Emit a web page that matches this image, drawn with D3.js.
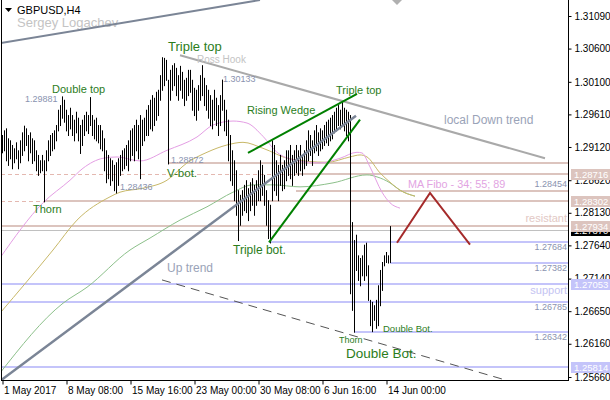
<!DOCTYPE html>
<html>
<head>
<meta charset="utf-8">
<script src="https://cdn.jsdelivr.net/npm/d3@7"></script>
<style>
  body { margin: 0; background: #fff; }
  svg { display: block; }
  text { font-family: "Liberation Sans", Arial, sans-serif; }
</style>
</head>
<body>
<svg id="chart" width="610" height="400"></svg>
<script>
// ---- GBPUSD H4 bars (high / low), one per 4-hour bar starting 1 May 2017 00:00 ----
const highs = [
  1.2930,1.2937,1.2940,1.2925,1.2922,1.2915,1.2910,1.2919,1.2907,1.2922,
  1.2934,1.2944,1.2940,1.2930,1.2934,1.2925,1.2922,1.2907,1.2900,1.2892,
  1.2900,1.2892,1.2907,1.2922,1.2930,1.2933,1.2937,1.2945,1.2968,1.2975,
  1.29881,1.2983,1.2968,1.2960,1.2971,1.2960,1.2953,1.2965,1.2956,1.2945,
  1.2953,1.2960,1.2965,1.2960,1.2987,1.2960,1.2953,1.2956,1.2945,1.2945,
  1.2937,1.2925,1.2907,1.2900,1.2895,1.2892,1.2885,1.2889,1.2895,1.2900,
  1.2907,1.2910,1.2915,1.2922,1.2937,1.2940,1.2945,1.2953,1.2945,1.2960,
  1.2953,1.2956,1.2968,1.2975,1.2983,1.2990,1.2986,1.2995,1.2998,1.3020,
  1.3047,1.3046,1.3043,1.3013,1.3028,1.3035,1.3038,1.3031,1.3020,1.3034,
  1.3025,1.3013,1.3016,1.3028,1.3028,1.3013,1.3001,1.2998,1.3005,1.3020,
  1.3035,1.3016,1.3005,1.2998,1.2990,1.2983,1.2998,1.2986,1.2975,1.2990,
  1.30133,1.2983,1.2968,1.2953,1.2930,1.2907,1.2892,1.2877,1.2847,1.2840,
  1.2847,1.2855,1.2862,1.2850,1.2859,1.2865,1.2855,1.2862,1.2877,1.2892,
  1.2885,1.2870,1.2847,1.2832,1.2825,1.2922,1.2915,1.2892,1.2885,1.2900,
  1.2885,1.2892,1.2907,1.2907,1.2915,1.2900,1.2907,1.2915,1.2907,1.2915,
  1.2900,1.2907,1.2922,1.2937,1.2930,1.2922,1.2937,1.2945,1.2934,1.2940,
  1.2937,1.2945,1.2950,1.2953,1.2956,1.2960,1.2965,1.2971,1.2975,1.2968,
  1.2980,1.2971,1.2968,1.2965,1.2960,1.2799,1.2772,1.2780,1.2749,1.2745,
  1.2749,1.2765,1.2768,1.2734,1.2682,1.2679,1.2674,1.2682,1.2704,1.2727,
  1.2739,1.2749,1.2754,1.2749,1.2793
];
const lows = [
  1.2904,1.2907,1.2892,1.2885,1.2895,1.2880,1.2889,1.2895,1.2880,1.2889,
  1.2900,1.2907,1.2915,1.2892,1.2904,1.2888,1.2892,1.2877,1.2870,1.2874,
  1.2877,1.28302,1.2877,1.2892,1.2900,1.2907,1.2910,1.2922,1.2937,1.2945,
  1.2956,1.2950,1.2937,1.2930,1.2940,1.2930,1.2922,1.2934,1.2922,1.2903,
  1.2915,1.2930,1.2937,1.2933,1.2945,1.2930,1.2925,1.2922,1.2919,1.2910,
  1.2907,1.2877,1.2859,1.2865,1.2855,1.2862,1.2847,1.28436,1.2855,1.2870,
  1.2877,1.2880,1.2885,1.2877,1.2892,1.2900,1.2892,1.2907,1.2895,1.2865,
  1.2915,1.2922,1.2930,1.2930,1.2940,1.2937,1.2945,1.2953,1.2960,1.2983,
  1.2998,1.3005,1.3013,1.28872,1.2983,1.2998,1.3005,1.2990,1.2983,1.2998,
  1.2986,1.2975,1.2983,1.2990,1.2995,1.2968,1.2960,1.2953,1.2968,1.2983,
  1.2990,1.2975,1.2968,1.2956,1.2945,1.2940,1.2953,1.2945,1.2930,1.2945,
  1.2968,1.2937,1.2930,1.2892,1.2862,1.2855,1.2832,1.2810,1.2772,1.2795,
  1.2810,1.2817,1.2814,1.2802,1.2817,1.2825,1.2810,1.2825,1.2832,1.2832,
  1.2840,1.2825,1.2795,1.2775,1.27684,1.2832,1.2847,1.2840,1.2832,1.2855,
  1.2847,1.2850,1.2862,1.2870,1.2865,1.2855,1.2870,1.2874,1.2870,1.2877,
  1.2870,1.2880,1.2885,1.2892,1.2900,1.2885,1.2904,1.2907,1.2900,1.2907,
  1.2910,1.2915,1.2919,1.2915,1.2922,1.2925,1.2934,1.2937,1.2945,1.2940,
  1.2945,1.2937,1.2930,1.2922,1.2692,1.2667,1.26342,1.2727,1.2712,1.2704,
  1.2719,1.2712,1.2719,1.2682,1.2644,1.2635,1.2652,1.2640,1.2644,1.2674,
  1.2697,1.2734,1.2739,1.27382,1.2739
];

// ---- moving averages 34 / 55 / 89 as [bar index, price] ----
const ma34 = [[-1,1.2745],[20.5,1.2828],[34,1.2862],[40.5,1.2880],[50.5,1.2895],[57.5,1.2897],
  [69,1.2891],[82.5,1.2907],[97.5,1.2927],[105.5,1.2945],[115.5,1.2951],[122.5,1.2948],
  [130.5,1.2928],[137.5,1.2904],[144,1.2894],[159,1.2888],[169,1.2895],[177.5,1.2904],
  [180,1.2903],[184,1.2882],[190,1.2844],[194,1.2828],[199,1.2820]];
const ma55 = [[-1,1.2662],[25.5,1.2757],[37.5,1.2802],[54,1.2837],[59,1.2844],[70.5,1.2850],
  [82.5,1.2862],[92.5,1.2888],[102.5,1.2904],[112.5,1.2915],[120.5,1.2919],[130.5,1.2910],
  [144,1.2894],[162.5,1.2889],[174,1.2897],[179,1.2900],[182.5,1.2897],[189,1.2873],
  [194,1.2859],[199,1.2847],[206.5,1.2838]];
const ma89 = [[-1,1.2572],[30.5,1.2677],[42.5,1.2701],[64,1.2757],[74,1.2775],[89,1.2802],
  [102.5,1.2822],[115.5,1.2844],[125.5,1.2855],[135.5,1.2855],[149,1.2852],[165.5,1.2858],
  [182.5,1.2870],[187.5,1.2867],[194,1.2858],[199,1.2847],[206.5,1.2838]];

// ---- trend lines as pairs of [bar index, price] ----
const channelTop = [[-1,1.3068],[129,1.3133]];
const localDownTrend = [[89,1.3050],[271.5,1.2895]];
const upTrend = [[-1,1.2560],[177,1.2959]];
const lowerChannel = [[80,1.2712],[258,1.2556]];
const wedgeTop = [[123,1.2903],[177.5,1.2992]];
const wedgeBottom = [[133.5,1.27684],[179,1.2953]];
const projection = [[197.5,1.2768],[214,1.2843],[234,1.2765]];

// ---- horizontal levels: price and first bar (null = whole width) ----
const resistPrices = [1.28872, 1.28716, 1.28454, 1.28302, 1.27934];
const resistStart  = [83, 147, 147, 21, null];
const dashedPrices = [1.28716, 1.28302];
const dashedEnd    = [147, 21];
const supportPrices = [1.27684, 1.27382, 1.27053, 1.26785, 1.26342, 1.25814];
const supportStart  = [134, 194, null, null, 176, null];
const bidPrice = 1.27870;

// ---- axes ----
const priceTicks = [1.31090,1.30600,1.30100,1.29610,1.29120,1.28620,1.28130,1.27640,1.27140,1.26650,1.26160,1.25660];
const timeTickBars = [0,32,64,96,128,160,192];
const timeTickLabels = ['1 May 2017','8 May 08:00','15 May 16:00','23 May 00:00','30 May 08:00','6 Jun 16:00','14 Jun 00:00'];

const svg = d3.select('#chart');
const plotLeft = 1, plotRight = 569, plotTop = 0, plotBottom = 381;

const x = d3.scaleLinear().domain([0, 283]).range([2, 568]);
const y = d3.scaleLinear().domain([1.25660, 1.31090]).range([377, 16]);

// header (drawn first so chart objects sit over it)
svg.append('path').attr('d', 'M5,8H12L8.5,12Z').attr('fill', '#000');
svg.append('text').attr('x', 17).attr('y', 13.5).attr('font-size', 11).attr('fill', '#000').text('GBPUSD,H4');
svg.append('text').attr('x', 17).attr('y', 26.5).attr('font-size', 13).attr('fill', '#c4c4c4').text('Sergey Logachev');

svg.append('defs').append('clipPath').attr('id', 'plotArea')
  .append('rect').attr('x', plotLeft).attr('y', plotTop)
  .attr('width', plotRight - plotLeft).attr('height', plotBottom - plotTop);

const plot = svg.append('g').attr('clip-path', 'url(#plotArea)');

const tan = '#dcc4be', lilac = '#c4c4fa';
const hx = i => (i === null ? plotLeft : x(i));

// level lines
plot.selectAll('line.dash').data(dashedPrices).join('line')
  .attr('x1', plotLeft).attr('x2', (d, k) => x(dashedEnd[k]))
  .attr('y1', d => Math.round(y(d)) + 0.5).attr('y2', d => Math.round(y(d)) + 0.5)
  .attr('stroke', '#e4b8b0').attr('stroke-dasharray', '4,3');
plot.selectAll('line.res').data(resistPrices).join('line')
  .attr('x1', (d, k) => hx(resistStart[k])).attr('x2', plotRight)
  .attr('y1', d => Math.round(y(d))).attr('y2', d => Math.round(y(d)))
  .attr('stroke', tan).attr('stroke-width', 2);
plot.selectAll('line.sup').data(supportPrices).join('line')
  .attr('x1', (d, k) => hx(supportStart[k])).attr('x2', plotRight)
  .attr('y1', d => Math.round(y(d))).attr('y2', d => Math.round(y(d)))
  .attr('stroke', lilac).attr('stroke-width', 2);
plot.append('line').attr('x1', plotLeft).attr('x2', plotRight)
  .attr('y1', Math.round(y(bidPrice)) + 0.5).attr('y2', Math.round(y(bidPrice)) + 0.5)
  .attr('stroke', '#c0c0c0');

// moving averages
const maLine = d3.line().x(d => x(d[0])).y(d => y(d[1])).curve(d3.curveMonotoneX);
[[ma89, '#8cc08a'], [ma55, '#c8b868'], [ma34, '#e49ee4']].forEach(([data, c]) => {
  plot.append('path').attr('d', maLine(data)).attr('fill', 'none').attr('stroke', c).attr('stroke-width', 1);
});

// price bars
plot.selectAll('line.bar').data(highs).join('line')
  .attr('x1', (d, i) => x(i) + 0.5).attr('x2', (d, i) => x(i) + 0.5)
  .attr('y1', d => y(d)).attr('y2', (d, i) => y(lows[i]) + 1)
  .attr('stroke', '#000').attr('stroke-width', 1);

// trend lines
const seg = d3.line().x(d => x(d[0])).y(d => y(d[1]));
plot.append('path').attr('d', seg(channelTop)).attr('stroke', '#7b8596').attr('stroke-width', 2).attr('fill', 'none');
plot.append('path').attr('d', seg(localDownTrend)).attr('stroke', '#a9a9a9').attr('stroke-width', 2).attr('fill', 'none');
plot.append('path').attr('d', seg(upTrend)).attr('stroke', '#7b8596').attr('stroke-width', 2.5).attr('fill', 'none');
plot.append('path').attr('d', seg(lowerChannel)).attr('stroke', '#555').attr('stroke-width', 1)
  .attr('stroke-dasharray', '9,6').attr('fill', 'none');
plot.append('path').attr('d', seg(wedgeTop)).attr('stroke', '#008000').attr('stroke-width', 2).attr('fill', 'none');
plot.append('path').attr('d', seg(wedgeBottom)).attr('stroke', '#008000').attr('stroke-width', 2).attr('fill', 'none');
plot.append('path').attr('d', seg(projection)).attr('stroke', '#a52a2a').attr('stroke-width', 2).attr('fill', 'none');

// frame and axes
svg.append('line').attr('x1', 1.5).attr('x2', 1.5).attr('y1', 0).attr('y2', plotBottom).attr('stroke', '#000');

const yAxis = d3.axisRight(y).tickValues(priceTicks).tickFormat(d3.format('.5f')).tickSize(3).tickPadding(3);
const gy = svg.append('g').attr('transform', `translate(${plotRight - 0.5},0)`).call(yAxis);
gy.select('.domain').attr('d', `M0,0V${plotBottom}`);
gy.selectAll('text').attr('font-size', 10).attr('fill', '#000').style('font-family', '"Liberation Sans", Arial, sans-serif');

const xAxis = d3.axisBottom(x).tickValues(timeTickBars).tickFormat((d, k) => timeTickLabels[k]).tickSize(4).tickPadding(2);
const gx = svg.append('g').attr('transform', `translate(0.5,${plotBottom - 0.5})`).call(xAxis);
gx.select('.domain').attr('d', `M1,0H${plotRight - 0.5}`);
gx.selectAll('text').attr('font-size', 10).attr('text-anchor', 'start').attr('dx', 1).attr('fill', '#000')
  .style('font-family', '"Liberation Sans", Arial, sans-serif');

// price boxes on the scale
const boxes = [
  [1.28716, tan, '#fff'], [1.28302, tan, '#fff'], [bidPrice, '#000', '#fff'],
  [1.27934, tan, '#fff'], [1.27053, lilac, '#fff'], [1.25814, lilac, '#fff']
];
boxes.forEach(([p, bg, fg]) => {
  const cy = y(p);
  svg.append('rect').attr('x', plotRight + 2).attr('y', Math.round(cy) - 5).attr('width', 41).attr('height', 11).attr('fill', bg);
  svg.append('text').attr('x', plotRight + 5).attr('y', Math.round(cy) + 4).attr('font-size', 9.5).attr('fill', fg)
    .text(d3.format('.5f')(p));
});

// chart-shift marker
svg.append('path').attr('d', `M${x(195)},0H${x(195) + 10}L${x(195) + 5},5Z`).attr('fill', '#b0b0b0');

// annotations
const green = '#2b7d1b';
const notes = [
  ['Triple top', 168, 50.5, 13, green],
  ['Ross Hook', 197, 63, 10, '#c4c4c4'],
  ['Double top', 52, 93, 11, green],
  ['Rising Wedge', 247, 114, 11, green],
  ['Triple top', 336, 94, 11, green],
  ['local Down trend', 444, 124, 12, '#9aa3b8'],
  ['V-bot.', 167, 176.5, 11.5, green],
  ['Thorn', 33, 213, 11, green],
  ['Triple bot.', 233, 253.5, 12, green],
  ['MA Fibo - 34; 55; 89', 408, 187.5, 10.8, '#e2a4e2'],
  ['Up trend', 167, 272, 12, '#9aa3b8'],
  ['Double Bot.', 383, 332, 9.5, green],
  ['Thorn', 339, 343, 9, green],
  ['Double Bot.', 346, 357.5, 13.5, green]
];
notes.forEach(([t, tx, ty, fs, c]) => {
  svg.append('text').attr('x', tx).attr('y', ty).attr('font-size', fs).attr('fill', c).text(t);
});

// extreme prices written beside their bars
const extremes = [[1.30133, 223, 81.5], [1.29881, 25, 102], [1.28872, 171, 163], [1.28436, 120, 190]];
extremes.forEach(([p, tx, ty]) => {
  svg.append('text').attr('x', tx).attr('y', ty).attr('font-size', 9).attr('fill', '#8a93b0').text(d3.format('.5f')(p));
});

// level values written at the right edge, under their lines
const levelTags = [1.28454, 1.27684, 1.27382, 1.26785, 1.26342];
levelTags.forEach(p => {
  const off = p === 1.28454 ? -4 : 8;
  svg.append('text').attr('x', 567).attr('y', Math.round(y(p)) + off).attr('font-size', 9)
    .attr('text-anchor', 'end').attr('fill', '#8a93b0').text(d3.format('.5f')(p));
});
svg.append('text').attr('x', 567).attr('y', 222).attr('font-size', 11).attr('text-anchor', 'end').attr('fill', '#e2c8c4').text('resistant');
svg.append('text').attr('x', 567).attr('y', 294).attr('font-size', 11).attr('text-anchor', 'end').attr('fill', '#c4c4f2').text('support');
</script>
</body>
</html>
